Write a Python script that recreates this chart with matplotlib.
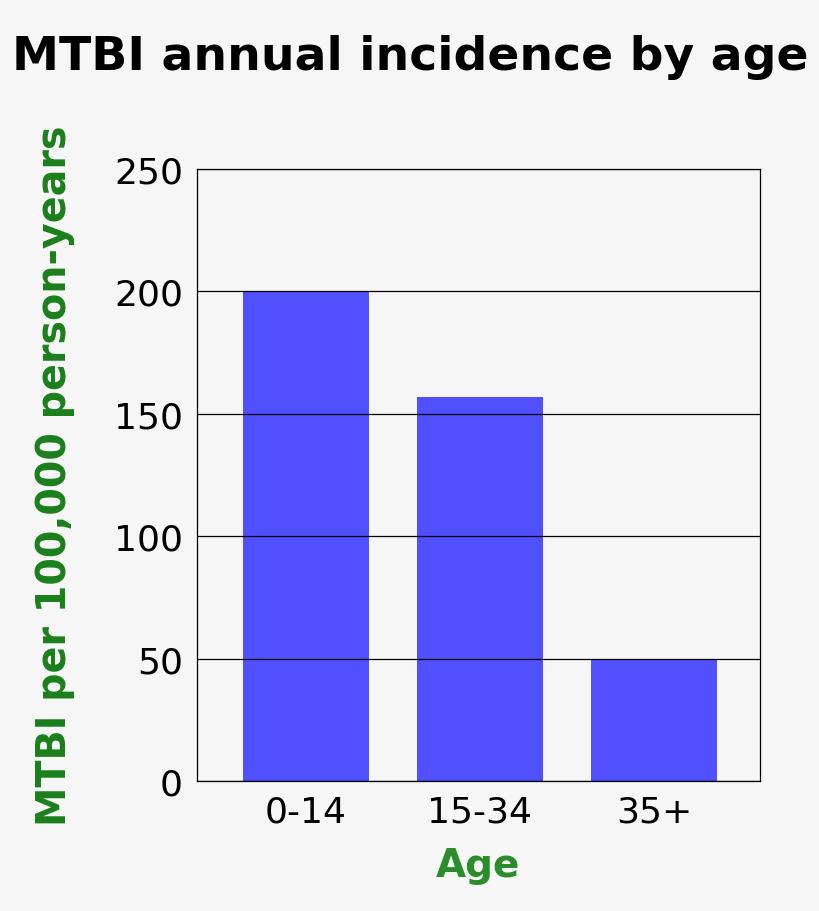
import matplotlib.pyplot as plt

ages = ["0-14", "15-34", "35+"]
incidence = [200, 157, 50]
yticks = [0, 50, 100, 150, 200, 250]

bg = "#f6f6f6"
fig = plt.figure(figsize=(8.2, 9.12), dpi=100, facecolor=bg)
ax = fig.add_axes([197 / 820, 1 - 782 / 912, 563 / 820, 612 / 912], facecolor=bg)

x = list(range(len(ages)))
ax.bar(x, incidence, width=0.72, color="#5050ff", zorder=1)
ax.set_xlim(-0.626, 2.609)
ax.set_ylim(0, 250)
ax.set_yticks(yticks)
ax.yaxis.grid(True, color="black", linewidth=0.9, zorder=2)
ax.set_axisbelow(False)
ax.set_xticks(x)
ax.set_xticklabels(ages)
ax.tick_params(length=0, labelsize=26, pad=10)
for s in ax.spines.values():
    s.set_linewidth(0.9)

ax.set_xlabel("Age", fontsize=28, fontweight="bold", color="#2a8c2a", labelpad=12)
ax.set_ylabel("MTBI per 100,000 person-years", fontsize=28.5, fontweight="bold",
              color="#1a7f1a", labelpad=28)
fig.text(0.5, 1 - 58 / 912, "MTBI annual incidence by age", ha="center", va="center",
         fontsize=34, fontweight="bold")

fig.savefig("out.png", dpi=100, facecolor=bg)
